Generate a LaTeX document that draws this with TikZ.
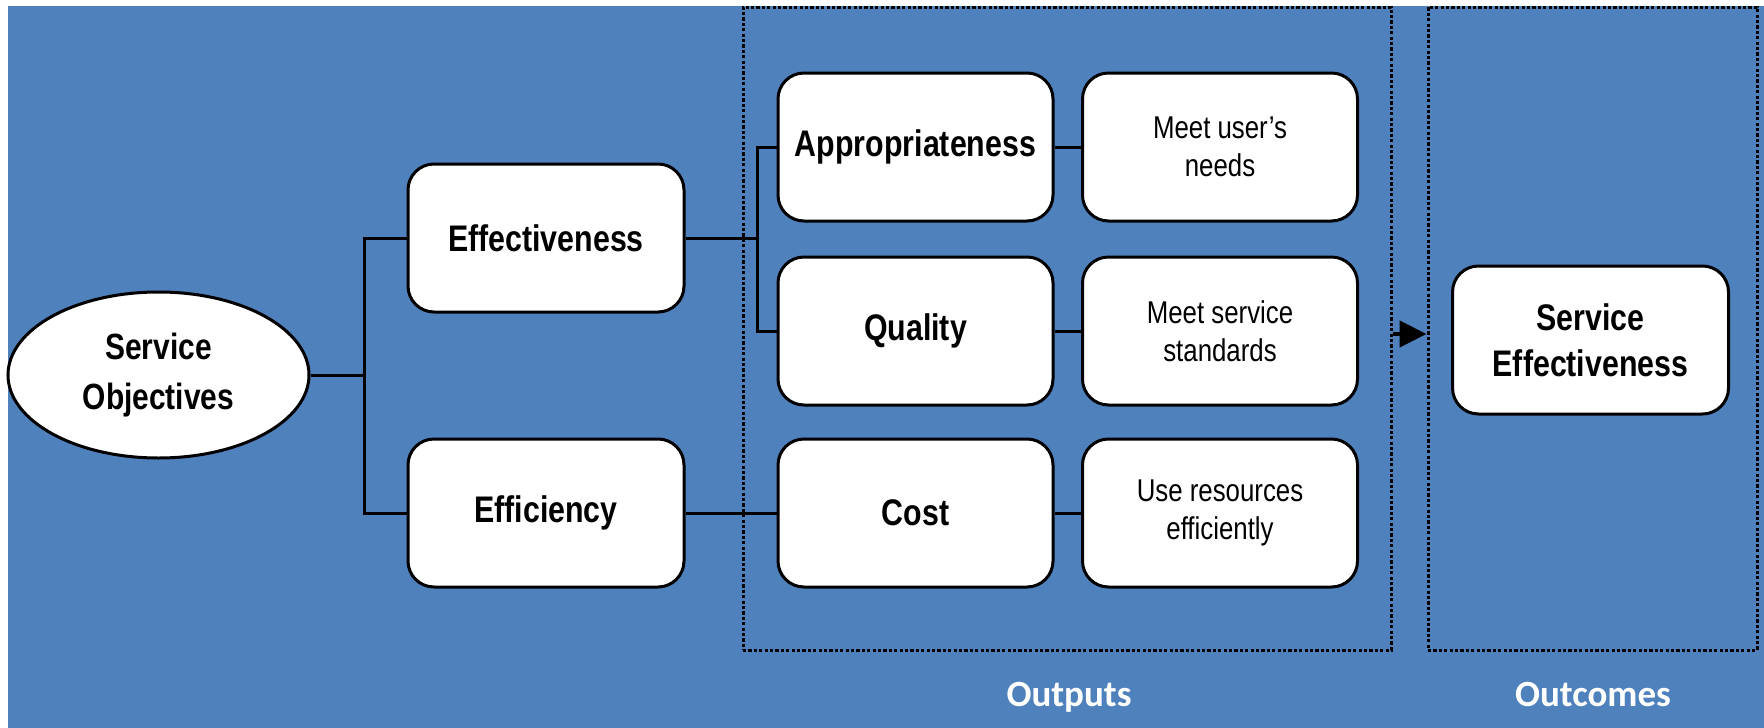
\documentclass[tikz,border=0pt]{standalone}
\usepackage{fontspec}
\setmainfont{Liberation Sans}[FakeStretch=0.82]
\newfontfamily\labfont{Carlito}
\usetikzlibrary{shapes.geometric,arrows.meta}
\definecolor{bgblue}{RGB}{79,129,189}
\tikzset{
  box/.style={draw=black, line width=3pt, fill=white, rounded corners=26pt,
    minimum width=276pt, minimum height=148pt, align=center, inner sep=4pt,
    font=\fontsize{37}{46}\selectfont\bfseries},
  sbox/.style={box, font=\fontsize{31.5}{38}\selectfont},
  oval/.style={draw=black, line width=3pt, fill=white, ellipse,
    minimum width=301pt, minimum height=166pt, inner sep=0pt, align=center,
    font=\fontsize{36.5}{50}\selectfont\bfseries},
  dotbox/.style={draw=black, line width=3pt, dash pattern=on 3.2pt off 2.2pt, inner sep=0pt},
  conn/.style={draw=black, line width=3pt},
  lab/.style={text=white, anchor=base, font=\labfont\fontsize{37}{40}\selectfont\bfseries}
}
\begin{document}
\begin{tikzpicture}[x=1pt,y=-1pt]
\useasboundingbox (0,0) rectangle (1764,728);
\fill[bgblue] (8,6) rectangle (1764,728);

% dotted group boxes
\node[dotbox, minimum width=648pt, minimum height=643pt] (outputs) at (1067,328.5) {};
\node[dotbox, minimum width=329pt, minimum height=643pt] (outcomes) at (1592.5,328.5) {};

% nodes
\node[oval] (so) at (158.5,375) {Service\\Objectives};
\node[box] (eff) at (546,238) {Effectiveness};
\node[box] (effi) at (546,513) {Efficiency};
\node[box, minimum width=275pt] (appr) at (915.5,147) {Appropriateness};
\node[box, minimum width=275pt] (qual) at (915.5,331) {Quality};
\node[box, minimum width=275pt] (cost) at (915.5,513) {Cost};
\node[sbox, minimum width=275pt] (m1) at (1220,147) {Meet user’s\\needs};
\node[sbox, minimum width=275pt] (m2) at (1220,331) {Meet service\\standards};
\node[sbox, minimum width=275pt] (m3) at (1220,513) {Use resources\\efficiently};
\node[box] (se) at (1590.5,340) {Service\\Effectiveness};

% connectors
\coordinate (trunk) at (364,375);
\coordinate (branch) at (757,238);
\draw[conn] (so.east) -- (trunk);
\draw[conn] (eff.west) -| (trunk) |- (effi.west);
\draw[conn] (eff.east) -- (branch);
\draw[conn] (appr.west) -| (branch) |- (qual.west);
\draw[conn] (effi.east) -- (cost.west);
\draw[conn] (appr.east) -- (m1.west);
\draw[conn] (qual.east) -- (m2.west);
\draw[conn] (cost.east) -- (m3.west);
\draw[line width=4.5pt, -{Triangle[length=27pt,width=26pt]}]
  ([yshift=-5.5pt]outputs.east) -- ([yshift=-5.5pt]outcomes.west);

% labels
\node[lab] (lout) at (1069,706) {Outputs};
\node[lab] (lcom) at (1593,706) {Outcomes};
\end{tikzpicture}
\end{document}
